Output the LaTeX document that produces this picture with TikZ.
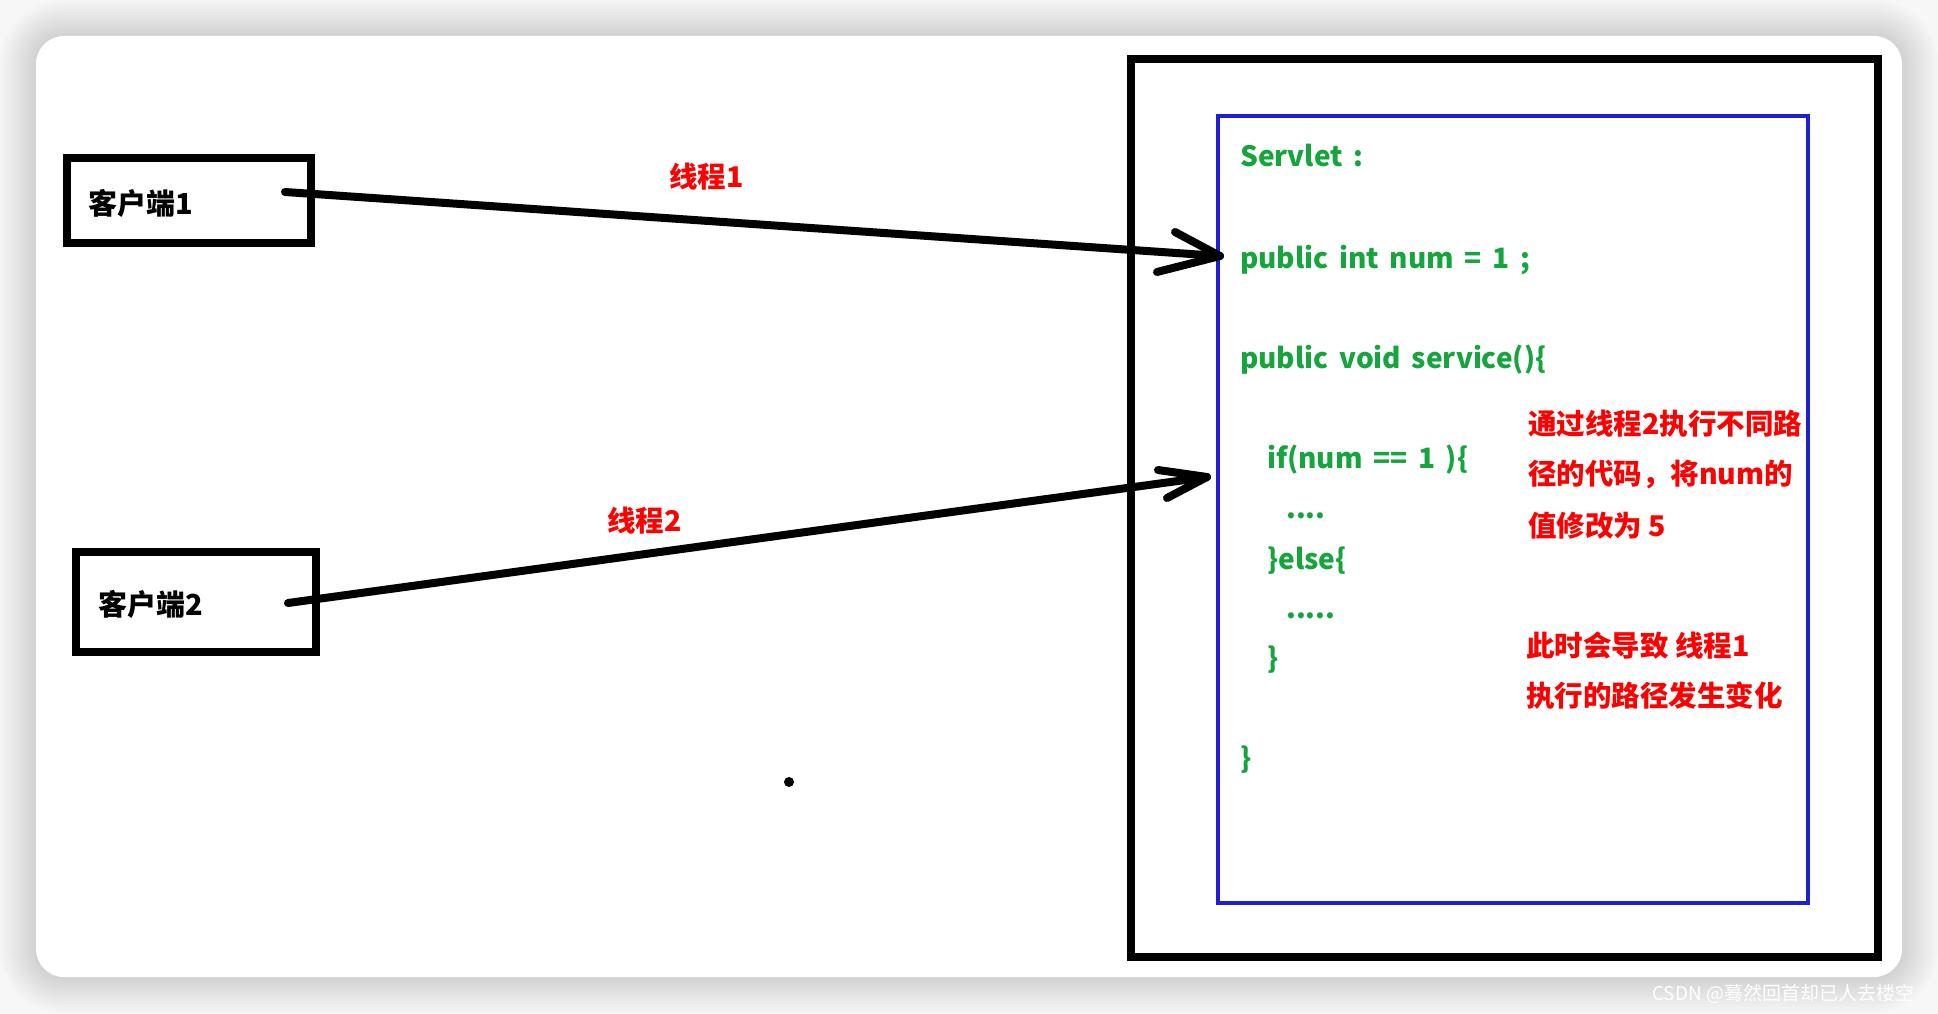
\documentclass[tikz,border=0pt]{standalone}
\usepackage{fontspec}
\setmainfont{Noto Sans CJK SC}
\definecolor{codegreen}{RGB}{20,165,60}
\definecolor{boxblue}{RGB}{30,30,210}
\definecolor{bggray}{RGB}{247,247,247}
\newcommand\widespacing{\spaceskip=0.38em\relax}
\begin{document}
\begin{tikzpicture}[x=1pt,y=-1pt,
  clientbox/.style={draw=black,line width=8pt,inner sep=0pt},
  code/.style={anchor=base west,inner sep=0pt,text=codegreen,font=\bfseries\fontsize{28}{30}\selectfont\widespacing},
  note/.style={anchor=base west,inner sep=0pt,text=red,font=\bfseries\fontsize{28.5}{30}\selectfont},
  clientlabel/.style={anchor=base west,inner sep=0pt,text=black,font=\bfseries\fontsize{29}{30}\selectfont},
  thread/.style={line width=8pt,line cap=round,line join=round}]
\useasboundingbox (0,0) rectangle (1938,1014);
\fill[bggray] (0,0) rectangle (1938,1014);
\foreach \i [evaluate=\i as \d using \i*3, evaluate=\i as \r using 28+\i*3] in {1,...,12}
  \fill[black,opacity=0.012,rounded corners=\r pt] (36-\d,36-\d) rectangle (1902+\d,977+\d);
\fill[white,rounded corners=28pt] (36,36) rectangle (1902,977);

% server container and servlet box
\node[draw=black,line width=8pt,inner sep=0pt,minimum width=747pt,minimum height=898pt] (server) at (1504.5,508) {};
\node[draw=boxblue,line width=4pt,inner sep=0pt,minimum width=590pt,minimum height=787pt] (servlet) at (1513,509.5) {};

% clients
\node[clientbox,minimum width=244pt,minimum height=85pt] (c1) at (189,200.5) {};
\node[clientbox,minimum width=240pt,minimum height=100pt] (c2) at (196,601.5) {};
\node[clientlabel] (c1t) at (88,214) {客户端1};
\node[clientlabel] (c2t) at (98,615) {客户端2};

% servlet code
\node[code] (l1) at (1240,167) {Servlet :};
\node[code] (l2) at (1240,268) {public int num = 1 ;};
\node[code] (l3) at (1240,368) {public void service()\{};
\node[code] (l4) at (1267,468) {if(num == 1 )\{};
\node[code] (l5) at (1286,518) {....};
\node[code] (l6) at (1267,569) {\}else\{};
\node[code] (l7) at (1286,618) {.....};
\node[code] (l8) at (1267,668) {\}};
\node[code] (l9) at (1240,768) {\}};

% notes
\node[note] (n1) at (1528,434) {通过线程2执行不同路};
\node[note] (n2) at (1528,484) {径的代码，将num的};
\node[note] (n3) at (1528,536) {值修改为 5};
\node[note] (n4) at (1526,656) {此时会导致 线程1};
\node[note] (n5) at (1526,706) {执行的路径发生变化};

% thread labels
\node[note] (th1) at (669,187) {线程1};
\node[note] (th2) at (607,531) {线程2};

% arrows
\coordinate (s1) at (285,192);
\coordinate (t1) at (1220,256);
\coordinate (h1a) at (1175,232);
\coordinate (h1b) at (1157,272);
\coordinate (s2) at (288,603);
\coordinate (t2) at (1207,477);
\coordinate (h2a) at (1158,470);
\coordinate (h2b) at (1167,498);
\draw[thread] (s1) -- (t1);
\draw[thread] (h1a) -- (t1) -- (h1b);
\draw[thread] (s2) -- (t2);
\draw[thread] (h2a) -- (t2) -- (h2b);

% stray dot
\fill (789,782) circle (5pt);

% watermark
\node[anchor=base west,inner sep=0pt,text=white,font=\fontsize{19}{20}\selectfont] (wm) at (1652,1000) {CSDN @蓦然回首却已人去楼空};
\end{tikzpicture}
\end{document}
